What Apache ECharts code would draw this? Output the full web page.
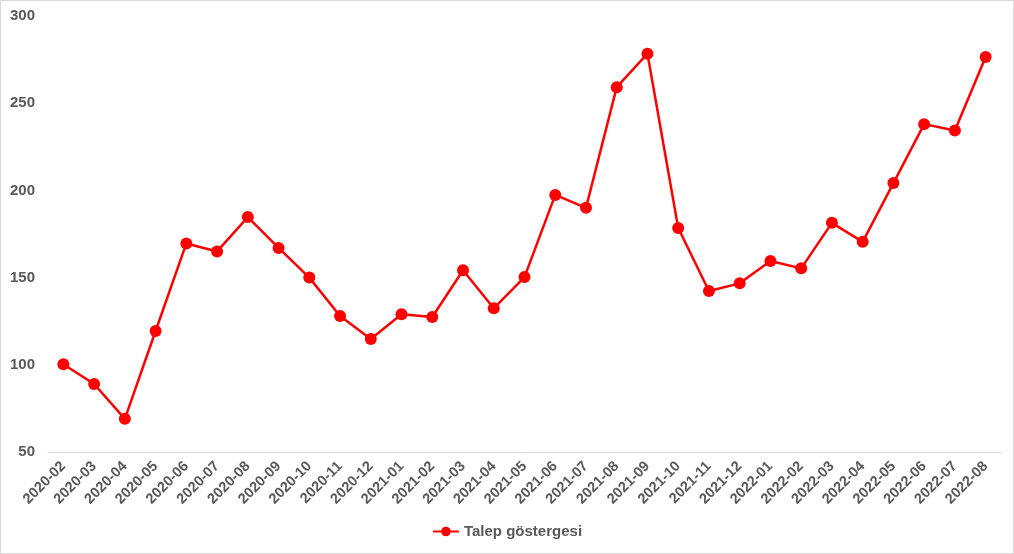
<!DOCTYPE html>
<html><head><meta charset="utf-8">
<script src="https://cdn.jsdelivr.net/npm/echarts@6/dist/echarts.min.js"></script>
<style>html,body{margin:0;padding:0;background:#fff}#c{width:1012px;height:552px;border:1px solid #d9d9d9;}</style>
</head><body><div id="c"></div>
<script>
const categories = ['2020-02','2020-03','2020-04','2020-05','2020-06','2020-07','2020-08','2020-09','2020-10','2020-11','2020-12','2021-01','2021-02','2021-03','2021-04','2021-05','2021-06','2021-07','2021-08','2021-09','2021-10','2021-11','2021-12','2022-01','2022-02','2022-03','2022-04','2022-05','2022-06','2022-07','2022-08'];
const talep = [100.3, 89, 69, 119.4, 169.6, 165, 184.7, 167, 150, 128, 114.8, 129, 127.4, 154.2, 132.4, 150.3, 197.4, 190, 259.2, 278.4, 178.4, 142.3, 146.7, 159.5, 155.3, 181.4, 170.5, 204.2, 238, 234.3, 276.5];
const yTicks = {min: 50, max: 300, interval: 50};
const chart = echarts.init(document.getElementById('c'));
const font = '"Liberation Sans", Arial, sans-serif';
chart.setOption({
  animation: false,
  grid: {left: 47, right: 12, top: 15, bottom: 101},
  legend: {bottom: 9, left: 'center', itemWidth: 26, itemHeight: 12, itemGap: 10,
    textStyle: {color: '#595959', fontWeight: 'bold', fontSize: 15, fontFamily: font},
    data: ['Talep göstergesi']},
  xAxis: {type: 'category', data: categories, boundaryGap: true,
    axisLine: {lineStyle: {color: '#d9d9d9', width: 1}}, axisTick: {show: false},
    axisLabel: {rotate: 45, interval: 0, color: '#595959', fontWeight: 'bold', fontSize: 14.5, fontFamily: font, margin: 12}},
  yAxis: {type: 'value', min: yTicks.min, max: yTicks.max, interval: yTicks.interval,
    splitLine: {show: false}, axisLine: {show: false}, axisTick: {show: false},
    axisLabel: {color: '#595959', fontWeight: 'bold', fontSize: 15, fontFamily: font, margin: 13}},
  series: [{name: 'Talep göstergesi', type: 'line', data: talep, symbol: 'circle', symbolSize: 12,
    lineStyle: {color: '#ff0000', width: 2.5}, itemStyle: {color: '#ff0000'}}]
});
</script></body></html>
